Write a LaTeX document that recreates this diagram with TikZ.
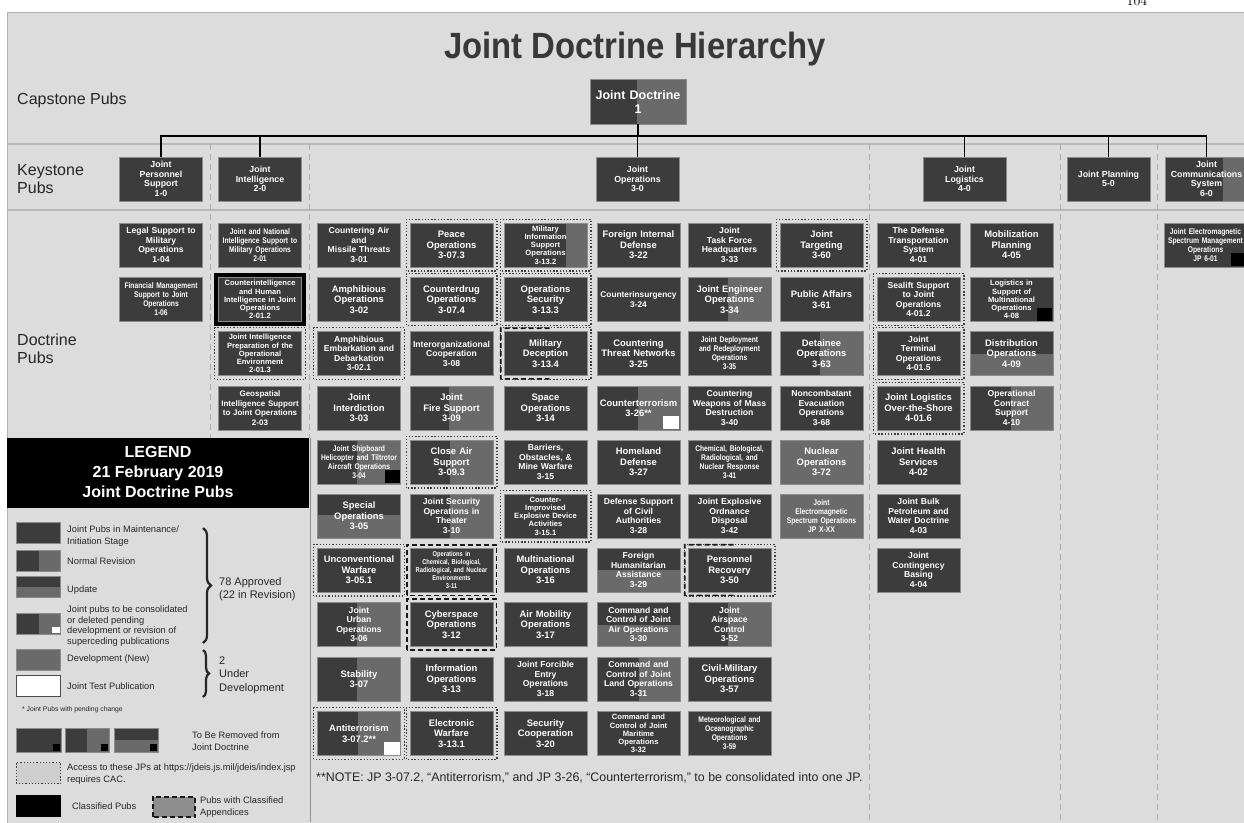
\documentclass[tikz,border=0pt]{standalone}
\usepackage{fontspec}
\setsansfont{Liberation Sans}
\newfontfamily\narrowfont[FakeStretch=0.82]{Liberation Sans}
\newfontfamily\titlefont[FakeStretch=0.9]{Liberation Sans}
\usetikzlibrary{calc,decorations.pathreplacing}

\definecolor{panelgray}{HTML}{DCDCDC}
\definecolor{pubdark}{HTML}{3C3C3C}
\definecolor{pubmid}{HTML}{6A6A6A}
\definecolor{pubedge}{HTML}{8C8C8C}
\definecolor{bandline}{HTML}{B9B9B9}
\definecolor{divline}{HTML}{ABABAB}
\definecolor{legink}{HTML}{262626}
\definecolor{cacfill}{HTML}{CFCFCF}
\definecolor{appxfill}{HTML}{8E8E8E}

\tikzset{
  pub/.style={draw=pubedge, line width=0.7pt, fill=pubdark, text=white,
    minimum width=83pt, minimum height=44pt, text width=80pt,
    inner xsep=1.5pt, inner ysep=0pt, align=center,
    font=\sffamily\bfseries\fontsize{9.4}{10.5}\selectfont},
  dense/.style={font=\sffamily\bfseries\fontsize{8.6}{9.5}\selectfont},
  fivel/.style={font=\sffamily\bfseries\fontsize{7.6}{8.2}\selectfont},
  tinytext/.style={font=\narrowfont\bfseries\fontsize{8.2}{9}\selectfont},
  keystone/.style={pub, font=\sffamily\bfseries\fontsize{8.8}{9.5}\selectfont},
  revision/.style={path picture={\fill[pubmid]
    ($(path picture bounding box.north west)!#1!(path picture bounding box.north east)$)
    rectangle (path picture bounding box.south east);}},
  revision/.default=0.5,
  update/.style={path picture={\fill[pubmid]
    ($(path picture bounding box.north west)!#1!(path picture bounding box.south west)$)
    rectangle (path picture bounding box.south east);}},
  update/.default=0.5,
  devel/.style={fill=pubmid},
  cacline/.style={draw=black!75, line width=1.3pt, dash pattern=on 1.3pt off 1.9pt},
  appxline/.style={draw=black!90, line width=1.7pt, dash pattern=on 5pt off 3pt},
  link/.style={draw=black, line width=1.7pt},
  divider/.style={draw=divline, line width=0.8pt, dash pattern=on 6pt off 4pt},
  band/.style={draw=bandline, line width=2.5pt},
  swatch/.style={draw=pubedge, line width=0.5pt, fill=pubdark,
    minimum width=44pt, minimum height=21pt, inner sep=0pt},
  legtext/.style={anchor=west, align=left, text=legink, inner sep=0pt,
    font=\sffamily\fontsize{9.3}{11.5}\selectfont},
  bandlabel/.style={anchor=west, align=left, inner sep=0pt, text=black!85,
    font=\sffamily\fontsize{16}{18}\selectfont},
}

\begin{document}
\begin{tikzpicture}[x=1pt, y=-1pt]
    \useasboundingbox (0,0) rectangle (1244,822);
    % Page and panel
    \fill[white] (0,0) rectangle (1244,822);
    \filldraw[fill=panelgray, draw=black!30, line width=0.8pt] (7,12.7) rectangle (1250,830);
    \node[font=\fontsize{14}{16}\selectfont, anchor=base, inner sep=0pt] (pageno) at (1137,5) {104};

    % Bands and column dividers
    \draw[band] (7,144) -- (1244,144);
    \draw[band] (7,210) -- (1244,210);
    \draw[divider] (210,144) -- (210,438);
    \draw[divider] (309,144) -- (309,438);
    \foreach \x in {869,1060,1157}
        \draw[divider] (\x,144) -- (\x,822);

    % Title and band labels
    \node[font=\titlefont\bfseries\fontsize{36.5}{40}\selectfont, text=black!78, anchor=base] (title) at (635,58) {Joint Doctrine Hierarchy};
    \node[bandlabel] (capstone) at (17,100) {Capstone Pubs};
    \node[bandlabel] (keystone) at (17,179) {Keystone\\Pubs};
    \node[bandlabel] (doctrine) at (17,349) {Doctrine\\Pubs};

    % Capstone
    \node[pub, revision=0.49, minimum width=96pt, text width=93pt, minimum height=45pt,
        font=\sffamily\bfseries\fontsize{12.5}{14}\selectfont] (jd1) at (638,101.5) {Joint Doctrine\\1};

    % Keystone
    \node[keystone] (jp10) at (161,179) {Joint\\Personnel\\Support\\1-0};
    \node[keystone] (jp20) at (260,179) {Joint\\Intelligence\\2-0};
    \node[keystone] (jp30) at (637.5,179) {Joint\\Operations\\3-0};
    \node[keystone] (jp40) at (964.5,179) {Joint\\Logistics\\4-0};
    \node[keystone] (jp50) at (1108.5,179) {Joint Planning\\5-0};
    \node[keystone, revision=0.7] (jp60) at (1206.5,179) {Joint\\Communications\\System\\6-0};

    % Connectors
    \coordinate (bar) at (0,136);
    \draw[link] (jd1.south) -- (jd1.south |- bar);
    \draw[link] (jp10.north) |- (bar -| jp60.north) -- (jp60.north);
    \foreach \k in {jp20,jp30,jp40,jp50}
        \draw[link] (\k.north) -- (\k.north |- bar);

    % Personnel and intelligence
    \node[pub, dense] (jp104) at (161,245) {Legal Support to\\Military\\Operations\\1-04};
    \node[pub, tinytext] (jp106) at (161,299.5) {Financial Management\\Support to Joint\\Operations\\1-06};
    \node[pub, tinytext] (jp201) at (260,245) {Joint and National\\Intelligence Support to\\Military Operations\\2-01};
    \node[pub, fivel] (jp2012) at (260,299.5) {Counterintelligence\\and Human\\Intelligence in Joint\\Operations\\2-01.2};
    \node[pub, fivel] (jp2013) at (260,353.5) {Joint Intelligence\\Preparation of the\\Operational\\Environment\\2-01.3};
    \node[pub, font=\sffamily\bfseries\fontsize{8}{9.5}\selectfont] (jp203) at (260,408) {Geospatial\\Intelligence Support\\to Joint Operations\\2-03};

    % Operations, first column
    \node[pub, dense] (jp301) at (359,245) {Countering Air\\and\\Missile Threats\\3-01};
    \node[pub] (jp302) at (359,299.5) {Amphibious\\Operations\\3-02};
    \node[pub, dense] (jp3021) at (359,353.5) {Amphibious\\Embarkation and\\Debarkation\\3-02.1};
    \node[pub] (jp303) at (359,408) {Joint\\Interdiction\\3-03};
    \node[pub, tinytext, revision=0.48] (jp304) at (359,462) {Joint Shipboard\\Helicopter and Tiltrotor\\Aircraft Operations\\3-04};
    \node[pub, update=0.47] (jp305) at (359,516) {Special\\Operations\\3-05};
    \node[pub] (jp3051) at (359,570) {Unconventional\\Warfare\\3-05.1};
    \node[pub, dense, revision=0.48] (jp306) at (359,624.5) {Joint\\Urban\\Operations\\3-06};
    \node[pub, revision=0.48] (jp307) at (359,679) {Stability\\3-07};
    \node[pub, revision=0.49] (jp3072) at (359,733.5) {Antiterrorism\\3-07.2**};

    % Operations, second column
    \node[pub] (jp3073) at (451.5,245) {Peace\\Operations\\3-07.3};
    \node[pub] (jp3074) at (451.5,299.5) {Counterdrug\\Operations\\3-07.4};
    \node[pub, dense] (jp308) at (451.5,353.5) {Interorganizational\\Cooperation\\3-08};
    \node[pub, revision=0.47] (jp309) at (451.5,408) {Joint\\Fire Support\\3-09};
    \node[pub, revision=0.48] (jp3093) at (451.5,462) {Close Air\\Support\\3-09.3};
    \node[pub, dense, revision=0.48] (jp310) at (451.5,516) {Joint Security\\Operations in\\Theater\\3-10};
    \node[pub, font=\narrowfont\bfseries\fontsize{7}{7.8}\selectfont] (jp311) at (451.5,570) {Operations in\\Chemical, Biological,\\Radiological, and Nuclear\\Environments\\3-11};
    \node[pub] (jp312) at (451.5,624.5) {Cyberspace\\Operations\\3-12};
    \node[pub] (jp313) at (451.5,679) {Information\\Operations\\3-13};
    \node[pub] (jp3131) at (451.5,733.5) {Electronic\\Warfare\\3-13.1};

    % Operations, third column
    \node[pub, fivel, revision=0.75] (jp3132) at (545.5,245) {Military\\Information\\Support\\Operations\\3-13.2};
    \node[pub] (jp3133) at (545.5,299.5) {Operations\\Security\\3-13.3};
    \node[pub] (jp3134) at (545.5,353.5) {Military\\Deception\\3-13.4};
    \node[pub] (jp314) at (545.5,408) {Space\\Operations\\3-14};
    \node[pub, dense] (jp315) at (545.5,462) {Barriers,\\Obstacles, \&\\Mine Warfare\\3-15};
    \node[pub, fivel] (jp3151) at (545.5,516) {Counter-\\Improvised\\Explosive Device\\Activities\\3-15.1};
    \node[pub] (jp316) at (545.5,570) {Multinational\\Operations\\3-16};
    \node[pub] (jp317) at (545.5,624.5) {Air Mobility\\Operations\\3-17};
    \node[pub, dense] (jp318) at (545.5,679) {Joint Forcible\\Entry\\Operations\\3-18};
    \node[pub] (jp320) at (545.5,733.5) {Security\\Cooperation\\3-20};

    % Operations, fourth column
    \node[pub] (jp322) at (638.5,245) {Foreign Internal\\Defense\\3-22};
    \node[pub, font=\sffamily\bfseries\fontsize{8.3}{9.5}\selectfont] (jp324) at (638.5,299.5) {Counterinsurgency\\3-24};
    \node[pub] (jp325) at (638.5,353.5) {Countering\\Threat Networks\\3-25};
    \node[pub, revision=0.49] (jp326) at (638.5,408) {Counterterrorism\\3-26**};
    \node[pub] (jp327) at (638.5,462) {Homeland\\Defense\\3-27};
    \node[pub, dense] (jp328) at (638.5,516) {Defense Support\\of Civil\\Authorities\\3-28};
    \node[pub, dense, update] (jp329) at (638.5,570) {Foreign\\Humanitarian\\Assistance\\3-29};
    \node[pub, dense, update] (jp330) at (638.5,624.5) {Command and\\Control of Joint\\Air Operations\\3-30};
    \node[pub, dense, revision] (jp331) at (638.5,679) {Command and\\Control of Joint\\Land Operations\\3-31};
    \node[pub, fivel] (jp332) at (638.5,733.5) {Command and\\Control of Joint\\Maritime\\Operations\\3-32};

    % Operations, fifth column
    \node[pub, dense] (jp333) at (729.5,245) {Joint\\Task Force\\Headquarters\\3-33};
    \node[pub, revision=0.48] (jp334) at (729.5,299.5) {Joint Engineer\\Operations\\3-34};
    \node[pub, tinytext] (jp335) at (729.5,353.5) {Joint Deployment\\and Redeployment\\Operations\\3-35};
    \node[pub, dense] (jp340) at (729.5,408) {Countering\\Weapons of Mass\\Destruction\\3-40};
    \node[pub, tinytext] (jp341) at (729.5,462) {Chemical, Biological,\\Radiological, and\\Nuclear Response\\3-41};
    \node[pub, dense] (jp342) at (729.5,516) {Joint Explosive\\Ordnance\\Disposal\\3-42};
    \node[pub] (jp350) at (729.5,570) {Personnel\\Recovery\\3-50};
    \node[pub, dense, revision=0.48] (jp352) at (729.5,624.5) {Joint\\Airspace\\Control\\3-52};
    \node[pub] (jp357) at (729.5,679) {Civil-Military\\Operations\\3-57};
    \node[pub, tinytext] (jp359) at (729.5,733.5) {Meteorological and\\Oceanographic\\Operations\\3-59};

    % Operations, sixth column
    \node[pub] (jp360) at (821.5,245) {Joint\\Targeting\\3-60};
    \node[pub] (jp361) at (821.5,299.5) {Public Affairs\\3-61};
    \node[pub, revision=0.48] (jp363) at (821.5,353.5) {Detainee\\Operations\\3-63};
    \node[pub, dense] (jp368) at (821.5,408) {Noncombatant\\Evacuation\\Operations\\3-68};
    \node[pub, devel] (jp372) at (821.5,462) {Nuclear\\Operations\\3-72};
    \node[pub, devel, tinytext] (jpxx) at (821.5,516) {Joint\\Electromagnetic\\Spectrum Operations\\JP X-XX};

    % Logistics
    \node[pub, dense] (jp401) at (918.5,245) {The Defense\\Transportation\\System\\4-01};
    \node[pub, dense] (jp4012) at (918.5,299.5) {Sealift Support\\to Joint\\Operations\\4-01.2};
    \node[pub, dense] (jp4015) at (918.5,353.5) {Joint\\Terminal\\Operations\\4-01.5};
    \node[pub] (jp4016) at (918.5,408) {Joint Logistics\\Over-the-Shore\\4-01.6};
    \node[pub] (jp402) at (918.5,462) {Joint Health\\Services\\4-02};
    \node[pub, dense] (jp403) at (918.5,516) {Joint Bulk\\Petroleum and\\Water Doctrine\\4-03};
    \node[pub, dense] (jp404) at (918.5,570) {Joint\\Contingency\\Basing\\4-04};
    \node[pub] (jp405) at (1011.5,245) {Mobilization\\Planning\\4-05};
    \node[pub, fivel] (jp408) at (1011.5,299.5) {Logistics in\\Support of\\Multinational\\Operations\\4-08};
    \node[pub, update] (jp409) at (1011.5,353.5) {Distribution\\Operations\\4-09};
    \node[pub, dense, revision=0.49] (jp410) at (1011.5,408) {Operational\\Contract\\Support\\4-10};

    % Communications system
    \node[pub, tinytext] (jp601) at (1205.5,245) {Joint Electromagnetic\\Spectrum Management\\Operations\\JP 6-01};

    % Access requires CAC
    \foreach \n in {jp2013,jp3021,jp3051,jp3072,jp3073,jp3074,jp3093,jp3131,jp3132,jp3133,jp3134,jp3151,jp350,jp360,jp4012,jp4015,jp4016}
        \draw[cacline] ($(\n.south west)+(-3.5,3.5)$) rectangle ($(\n.north east)+(3.5,-3.5)$);
    % Classified appendices
    \foreach \n in {jp311,jp312}
        \draw[appxline] ($(\n.south west)+(-3,3)$) rectangle ($(\n.north east)+(3,-3)$);
    \foreach \n in {jp3134,jp350}
        \draw[appxline] ($(\n.north west)!0.55!(\n.north east)+(0,-3)$) -- ($(\n.north west)+(-3,-3)$)
            -- ($(\n.south west)+(-3,3)$) -- ($(\n.south west)!0.55!(\n.south east)+(0,3)$);
    \draw[black, line width=3.5pt] ($(jp2012.south west)+(-2,2)$) rectangle ($(jp2012.north east)+(2,-2)$);
    % To be removed / to be consolidated
    \foreach \n in {jp304,jp408,jp601}
        \fill[black] ($(\n.south east)+(-1,-1)$) rectangle ($(\n.south east)+(-16,-14)$);
    \foreach \n in {jp3072,jp326}
        \fill[white] ($(\n.south east)+(-1,-1)$) rectangle ($(\n.south east)+(-17,-14)$);

    % Legend
    \fill[black] (7,438) rectangle (309,508);
    \draw[black!45, line width=0.8pt] (310,438) -- (310,822);
    \node[font=\sffamily\bfseries\fontsize{16}{20}\selectfont, text=white, align=center] (legend) at (158,472) {LEGEND\\21 February 2019\\Joint Doctrine Pubs};

    \node[swatch] (lgmaint) at (38.5,533) {};
    \node[legtext] (lgmainttxt) at (67,536) {Joint Pubs in Maintenance/\\Initiation Stage};
    \node[swatch, revision] (lgrev) at (38.5,560.5) {};
    \node[legtext] (lgrevtxt) at (67,561) {Normal Revision};
    \node[swatch, update] (lgupd) at (38.5,587) {};
    \node[legtext] (lgupdtxt) at (67,590) {Update};
    \node[swatch, revision] (lgcons) at (38.5,623.5) {};
    \fill[white] ($(lgcons.south east)+(-1,-1)$) rectangle ($(lgcons.south east)+(-9,-7)$);
    \node[legtext, font=\sffamily\fontsize{9.3}{10.5}\selectfont] (lgconstxt) at (67,626) {Joint pubs to be consolidated\\or deleted pending\\development or revision of\\superceding publications};
    \node[swatch, devel] (lgdev) at (38.5,659.5) {};
    \node[legtext] (lgdevtxt) at (67,659) {Development (New)};
    \node[swatch, fill=white, draw=black!70, line width=0.8pt] (lgtest) at (38.5,686) {};
    \node[legtext] (lgtesttxt) at (67,686) {Joint Test Publication};

    \draw[decorate, decoration={brace, amplitude=8pt}, line width=2.2pt, black!85] (203,528) -- (203,643);
    \draw[decorate, decoration={brace, amplitude=6pt}, line width=2.2pt, black!85] (203,650) -- (203,697);
    \node[legtext, font=\sffamily\fontsize{11}{13.3}\selectfont] (approved) at (219,589) {78 Approved\\(22 in Revision)};
    \node[legtext, font=\sffamily\fontsize{11}{13.5}\selectfont] (underdev) at (219,675) {2\\Under\\Development};

    \node[legtext, font=\sffamily\fontsize{6.8}{8}\selectfont] (pending) at (22,710) {* Joint Pubs with pending change};
    \node[swatch, minimum width=45pt, minimum height=24pt] (lgrm1) at (38.5,740) {};
    \node[swatch, revision, minimum height=24pt] (lgrm2) at (87,740) {};
    \node[swatch, update, minimum height=24pt] (lgrm3) at (136,740) {};
    \foreach \n in {lgrm1,lgrm2,lgrm3}
        \fill[black] ($(\n.south east)+(-1,-1)$) rectangle ($(\n.south east)+(-8,-8)$);
    \node[legtext] (removed) at (192,741) {To Be Removed from\\Joint Doctrine};

    \node[swatch, fill=cacfill, draw=none] (lgcac) at (38.5,773) {};
    \draw[cacline] (lgcac.south west) rectangle (lgcac.north east);
    \node[legtext] (cactxt) at (67,774) {Access to these JPs at https://jdeis.js.mil/jdeis/index.jsp\\requires CAC.};
    \node[swatch, fill=black, draw=black] (lgclass) at (38.5,806) {};
    \node[legtext] (classtxt) at (72,806) {Classified Pubs};
    \node[swatch, fill=appxfill, draw=none, minimum width=42pt, minimum height=20pt] (lgappx) at (174,807) {};
    \draw[appxline] (lgappx.south west) rectangle (lgappx.north east);
    \node[legtext] (appxtxt) at (200,807) {Pubs with Classified\\Appendices};

    % Note
    \node[anchor=west, inner sep=0pt, text=legink, font=\sffamily\fontsize{12.4}{14}\selectfont] (note) at (316,778) {**NOTE: JP 3-07.2, “Antiterrorism,” and JP 3-26, “Counterterrorism,” to be consolidated into one JP.};
\end{tikzpicture}
\end{document}
